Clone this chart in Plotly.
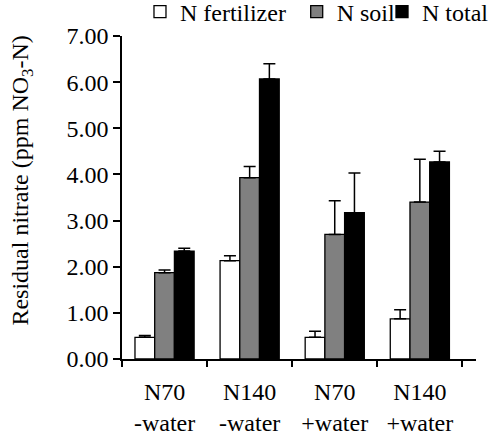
import plotly.graph_objects as go

categories = ["N70<br>-water", "N140<br>-water", "N70<br>+water", "N140<br>+water"]
n_fertilizer = [0.47, 2.13, 0.47, 0.87]
n_fertilizer_err = [0.04, 0.11, 0.13, 0.20]
n_soil = [1.87, 3.93, 2.70, 3.40]
n_soil_err = [0.06, 0.24, 0.73, 0.93]
n_total = [2.34, 6.07, 3.17, 4.27]
n_total_err = [0.06, 0.33, 0.86, 0.23]
y_ticks = [0, 1, 2, 3, 4, 5, 6, 7]

FONT = "Times New Roman"

fig = go.Figure()
series = [
    ("N fertilizer", n_fertilizer, n_fertilizer_err, "#ffffff", "legend"),
    ("N soil", n_soil, n_soil_err, "#808080", "legend2"),
    ("N total", n_total, n_total_err, "#000000", "legend3"),
]
for name, vals, errs, color, lg in series:
    fig.add_trace(go.Bar(
        name=name, x=categories, y=vals, legend=lg,
        marker=dict(color=color, line=dict(color="black", width=1.3)),
        error_y=dict(type="data", array=errs, arrayminus=[0] * len(errs),
                     symmetric=False, color="black", thickness=1.5, width=6),
    ))

legend_common = dict(orientation="h", xanchor="left", y=1.074, yanchor="middle",
                     font=dict(family=FONT, size=24), itemwidth=30,
                     bgcolor="rgba(0,0,0,0)", borderwidth=0)

fig.update_layout(
    width=489, height=436,
    margin=dict(l=122, r=13, t=36, b=77, autoexpand=False),
    paper_bgcolor="white", plot_bgcolor="white",
    font=dict(family=FONT, size=24, color="black"),
    barmode="group", bargap=0.305, bargroupgap=0,
    showlegend=True,
    legend=dict(x=0.0508, **legend_common),
    legend2=dict(x=0.4935, **legend_common),
    legend3=dict(x=0.7345, **legend_common),
)
fig.update_xaxes(
    type="category", range=[-0.5, 3.66], tickson="boundaries",
    showline=True, linecolor="black", linewidth=1.5,
    ticks="outside", ticklen=6, tickwidth=1.5, tickcolor="black",
    ticklabelstandoff=10,
    showgrid=False, zeroline=False, tickfont=dict(family=FONT, size=24),
)
fig.update_yaxes(
    range=[0, 7], tickvals=y_ticks, ticktext=[f"{v:.2f}" for v in y_ticks],
    showline=True, linecolor="black", linewidth=1.5,
    ticks="outside", ticklen=7, tickwidth=1.5, tickcolor="black",
    showgrid=False, zeroline=False, tickfont=dict(family=FONT, size=24),
)
fig.add_annotation(
    text="Residual nitrate (ppm NO<sub>3</sub>-N)",
    xref="paper", yref="paper", x=-0.282, y=0.553,
    xanchor="center", yanchor="middle", textangle=-90, showarrow=False,
    font=dict(family=FONT, size=24),
)
fig.write_html("out.html")
